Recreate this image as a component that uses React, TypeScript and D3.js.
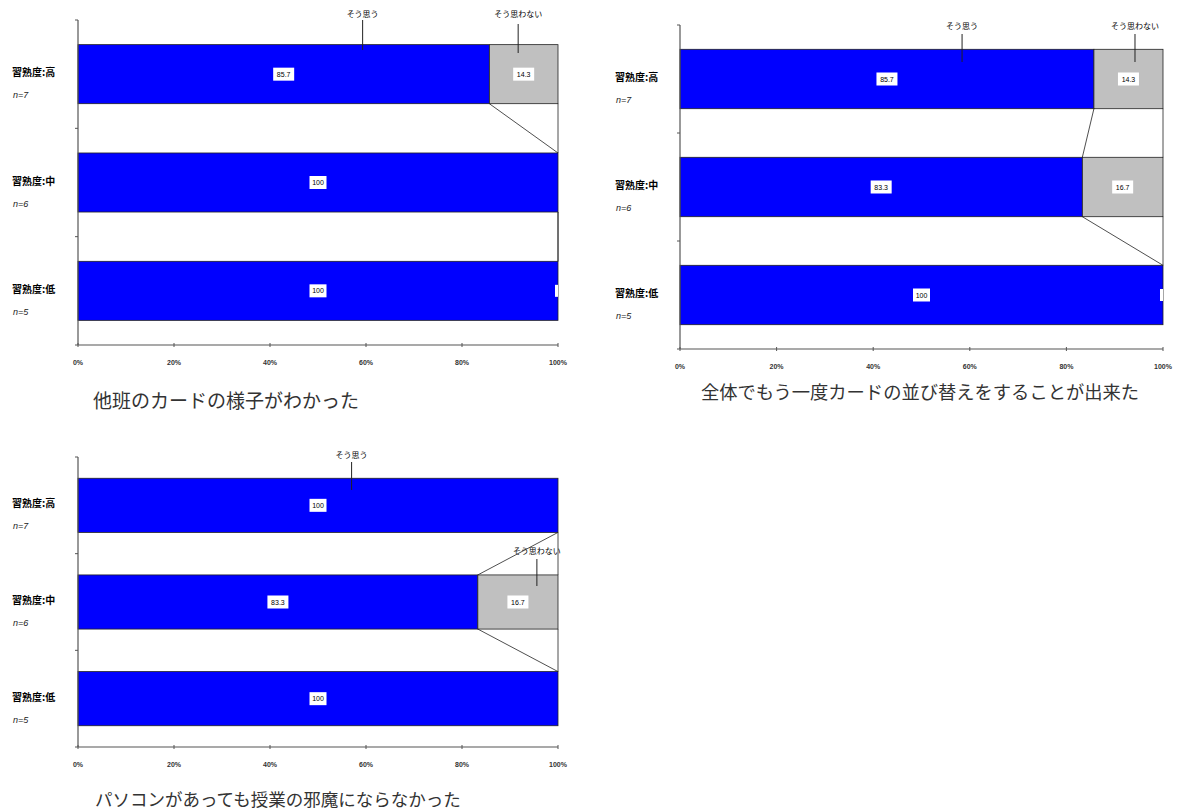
import React from 'react';
import * as d3 from 'd3';

// Survey results: share of "agree" / "disagree" answers by proficiency group
const categories = ['習熟度:高', '習熟度:中', '習熟度:低'];
const sampleSizes = ['n=7', 'n=6', 'n=5'];
const seriesNames = ['そう思う', 'そう思わない'];
const xTickValues = [0, 20, 40, 60, 80, 100];

const cardsAgree = [85.7, 100, 100];
const cardsDisagree = [14.3, 0, 0];

const reorderAgree = [85.7, 83.3, 100];
const reorderDisagree = [14.3, 16.7, 0];

const pcAgree = [100, 83.3, 100];
const pcDisagree = [0, 16.7, 0];

const chartTitles = [
  '他班のカードの様子がわかった',
  '全体でもう一度カードの並び替えをすることが出来た',
  'パソコンがあっても授業の邪魔にならなかった',
];

const BLUE = '#0000ff';
const GRAY = '#c0c0c0';
const AXIS = '#555';
const FONT = '"Liberation Sans", Arial, sans-serif';
const JFONT = '"Noto Sans CJK JP", "Noto Sans", sans-serif';

type Callout = { series: number; at: number; labelY: number; y1: number; y2: number };

type Layout = {
  left: number;
  right: number;
  top: number;
  bottom: number;
  padding: number;
  labelX: number;
  titleX: number;
  titleY: number;
  titleSize: number;
  titleAnchor: 'start' | 'middle';
  callouts: Callout[];
  zeroLabelRows: number[];
};

function fmt(v: number) {
  return v === 100 ? '100' : v.toFixed(1);
}

function StackedChart({ agree, disagree, title, layout }: { agree: number[]; disagree: number[]; title: string; layout: Layout }) {
  const rows = categories.map((c, i) => ({ cat: c, agree: agree[i], disagree: disagree[i] }));
  const stack = d3.stack<any>().keys(['agree', 'disagree'])(rows);

  const x = d3.scaleLinear().domain([0, 100]).range([layout.left, layout.right]);
  const y = d3
    .scaleBand<string>()
    .domain(categories)
    .range([layout.top, layout.bottom])
    .paddingInner(layout.padding)
    .paddingOuter(layout.padding / 2);
  const bw = y.bandwidth();
  const band = y.step();
  const fills = [BLUE, GRAY];

  // connector ("series") lines between consecutive bars at each segment boundary
  const seriesLines: { x1: number; y1: number; x2: number; y2: number }[] = [];
  stack.forEach((s) => {
    for (let i = 0; i < categories.length - 1; i++) {
      seriesLines.push({
        x1: x(s[i][1]),
        y1: (y(categories[i]) as number) + bw,
        x2: x(s[i + 1][1]),
        y2: y(categories[i + 1]) as number,
      });
    }
  });

  const boundaries = d3.range(categories.length + 1).map((i) => layout.top + i * band);

  return (
    <g>
      {/* bars */}
      {stack.map((s, k) =>
        s.map((d, i) =>
          d[1] - d[0] > 0 ? (
            <rect
              key={`b${k}-${i}`}
              x={x(d[0])}
              y={y(categories[i])}
              width={x(d[1]) - x(d[0])}
              height={bw}
              fill={fills[k]}
              stroke="#222"
              strokeWidth={0.8}
            />
          ) : null
        )
      )}

      {/* series lines */}
      {seriesLines.map((l, i) => (
        <line key={`sl${i}`} x1={l.x1} y1={l.y1} x2={l.x2} y2={l.y2} stroke="#222" strokeWidth={0.8} />
      ))}

      {/* value labels */}
      {stack.map((s, k) =>
        s.map((d, i) => {
          const v = d[1] - d[0];
          const cy = (y(categories[i]) as number) + bw / 2;
          if (v <= 0) {
            if (k === 1 && layout.zeroLabelRows.includes(i)) {
              return <rect key={`z${i}`} x={x(d[0]) - 3} y={cy - 6} width={3} height={12} fill="#fff" />;
            }
            return null;
          }
          const cx = (x(d[0]) + x(d[1])) / 2;
          const txt = fmt(v);
          const w = txt.length * 4 + 5;
          return (
            <g key={`lb${k}-${i}`}>
              <rect x={cx - w / 2} y={cy - 6.5} width={w} height={13} fill="#fff" />
              <text x={cx} y={cy + 2.5} textAnchor="middle" fontSize={7} fontFamily={FONT} fill="#000">
                {txt}
              </text>
            </g>
          );
        })
      )}

      {/* axes */}
      <line x1={layout.left} y1={layout.top} x2={layout.left} y2={layout.bottom} stroke={AXIS} strokeWidth={1.2} />
      <line x1={layout.left} y1={layout.bottom} x2={layout.right} y2={layout.bottom} stroke={AXIS} strokeWidth={1.2} />
      {boundaries.map((b, i) => (
        <line key={`yt${i}`} x1={layout.left - 3} y1={b} x2={layout.left} y2={b} stroke={AXIS} strokeWidth={1} />
      ))}
      {xTickValues.map((t) => (
        <g key={`xt${t}`}>
          <line x1={x(t)} y1={layout.bottom - 2} x2={x(t)} y2={layout.bottom + 2} stroke={AXIS} strokeWidth={1} />
          <text
            x={x(t)}
            y={layout.bottom + 20}
            textAnchor="middle"
            fontSize={7}
            fontWeight="bold"
            fontFamily={FONT}
            fill="#333"
          >
            {`${t}%`}
          </text>
        </g>
      ))}

      {/* category labels */}
      {categories.map((c, i) => {
        const cy = (y(c) as number) + bw / 2;
        return (
          <g key={`cl${i}`}>
            <text x={layout.labelX} y={cy + 2} fontSize={10} fontWeight="bold" fontFamily={JFONT} fill="#000">
              {c}
            </text>
            <text x={layout.labelX + 1} y={cy + 24} fontSize={9} fontStyle="italic" fontFamily={FONT} fill="#222">
              {sampleSizes[i]}
            </text>
          </g>
        );
      })}

      {/* series name callouts with leader lines */}
      {layout.callouts.map((c, i) => (
        <g key={`co${i}`}>
          <text x={x(c.at)} y={c.labelY} textAnchor="middle" fontSize={8} fontFamily={JFONT} fill="#000">
            {seriesNames[c.series]}
          </text>
          <line x1={x(c.at)} y1={c.y1} x2={x(c.at)} y2={c.y2} stroke="#222" strokeWidth={1} />
        </g>
      ))}

      {/* chart title */}
      <text
        x={layout.titleX}
        y={layout.titleY}
        textAnchor={layout.titleAnchor}
        fontSize={layout.titleSize}
        fontFamily={JFONT}
        fill="#333"
      >
        {title}
      </text>
    </g>
  );
}

const layouts: Layout[] = [
  {
    left: 78,
    right: 558,
    top: 20,
    bottom: 345,
    padding: 0.455,
    labelX: 12,
    titleX: 93,
    titleY: 408,
    titleSize: 19,
    titleAnchor: 'start',
    callouts: [
      { series: 0, at: 59.3, labelY: 17, y1: 20, y2: 50 },
      { series: 1, at: 91.7, labelY: 17, y1: 24, y2: 53 },
    ],
    zeroLabelRows: [2],
  },
  {
    left: 680,
    right: 1163,
    top: 25,
    bottom: 349,
    padding: 0.45,
    labelX: 615,
    titleX: 920,
    titleY: 399,
    titleSize: 18.3,
    titleAnchor: 'middle',
    callouts: [
      { series: 0, at: 58.4, labelY: 29, y1: 34, y2: 62 },
      { series: 1, at: 94.2, labelY: 29, y1: 34, y2: 62 },
    ],
    zeroLabelRows: [2],
  },
  {
    left: 78,
    right: 558,
    top: 457,
    bottom: 747,
    padding: 0.44,
    labelX: 12,
    titleX: 95,
    titleY: 806,
    titleSize: 17.5,
    titleAnchor: 'start',
    callouts: [
      { series: 0, at: 57, labelY: 458, y1: 462, y2: 490 },
      { series: 1, at: 95.6, labelY: 554, y1: 559, y2: 586 },
    ],
    zeroLabelRows: [],
  },
];

export default function App() {
  return (
    <svg
      width={1186}
      height={810}
      viewBox="0 0 1186 810"
      style={{ position: 'absolute', left: 0, top: 0, background: '#fff' }}
    >
      <rect width={1186} height={810} fill="#fff" />
      <StackedChart agree={cardsAgree} disagree={cardsDisagree} title={chartTitles[0]} layout={layouts[0]} />
      <StackedChart agree={reorderAgree} disagree={reorderDisagree} title={chartTitles[1]} layout={layouts[1]} />
      <StackedChart agree={pcAgree} disagree={pcDisagree} title={chartTitles[2]} layout={layouts[2]} />
    </svg>
  );
}
